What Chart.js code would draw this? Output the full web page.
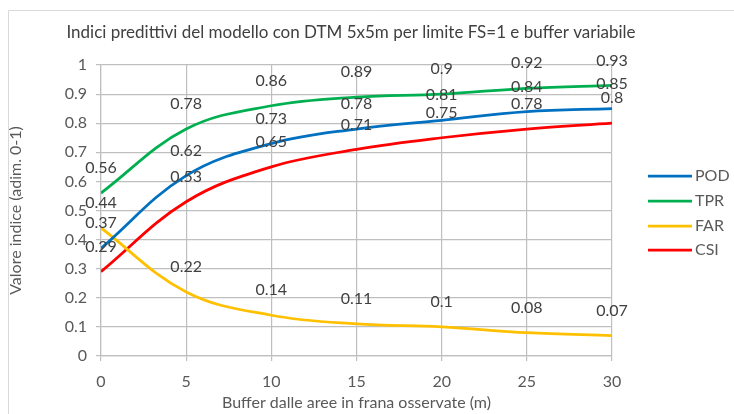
<!DOCTYPE html>
<html>
<head>
<meta charset="utf-8">
<script src="https://cdn.jsdelivr.net/npm/chart.js@4/dist/chart.umd.min.js"></script>
<style>
  html, body { margin: 0; padding: 0; background: #ffffff; }
  #wrap { position: relative; width: 734px; height: 414px; }
</style>
</head>
<body>
<div id="wrap"><canvas id="c" width="734" height="414"></canvas></div>
<script>
// Buffer distances (m) and predictive indices
const buffers = [0, 5, 10, 15, 20, 25, 30];
const seriesNames = ['POD', 'TPR', 'FAR', 'CSI'];
const pod = [0.37, 0.62, 0.73, 0.78, 0.81, 0.84, 0.85];
const tpr = [0.56, 0.78, 0.86, 0.89, 0.9, 0.92, 0.93];
const far = [0.44, 0.22, 0.14, 0.11, 0.1, 0.08, 0.07];
const csi = [0.29, 0.53, 0.65, 0.71, 0.75, 0.78, 0.8];
const xTicks = [0, 5, 10, 15, 20, 25, 30];
const yTicks = [0, 0.1, 0.2, 0.3, 0.4, 0.5, 0.6, 0.7, 0.8, 0.9, 1];

const titleText = 'Indici predittivi del modello con DTM 5x5m per limite FS=1 e buffer variabile';
const xTitle = 'Buffer dalle aree in frana osservate (m)';
const yTitle = 'Valore indice (adim. 0-1)';

const colors = ['#0070C0', '#00B050', '#FFC000', '#FF0000'];
const FONT = 'Lato, "Open Sans", sans-serif';
const TXT = 16;

const pts = arr => arr.map((v, i) => ({ x: buffers[i], y: v }));
const datasets = [pod, tpr, far, csi].map((arr, i) => ({
  label: seriesNames[i],
  data: pts(arr),
  borderColor: colors[i],
  backgroundColor: colors[i],
  borderWidth: 2.75,
  pointRadius: 0,
  tension: 0.38,
  fill: false
}));

// Frame, title, axis titles, value labels and legend
const decorations = {
  id: 'decorations',
  beforeDraw(chart) {
    const ctx = chart.ctx;
    ctx.save();
    ctx.strokeStyle = '#d9d9d9';
    ctx.lineWidth = 1;
    ctx.beginPath();
    ctx.moveTo(8.5, 414);
    ctx.lineTo(8.5, 10.5);
    ctx.lineTo(734, 10.5);
    ctx.stroke();
    ctx.restore();
  },
  afterDatasetsDraw(chart) {
    const ctx = chart.ctx;
    const xs = chart.scales.x, ys = chart.scales.y;
    const area = chart.chartArea;
    ctx.save();
    // title
    ctx.fillStyle = '#404040';
    ctx.font = '17px ' + FONT;
    ctx.textAlign = 'center';
    ctx.textBaseline = 'middle';
    ctx.fillText(titleText, 351, 33);
    // axis titles
    ctx.fillStyle = '#595959';
    ctx.font = TXT + 'px ' + FONT;
    ctx.fillText(xTitle, (area.left + area.right) / 2, 403);
    ctx.save();
    ctx.translate(16, (area.top + area.bottom) / 2);
    ctx.rotate(-Math.PI / 2);
    ctx.fillText(yTitle, 0, 0);
    ctx.restore();
    // value labels above each point
    ctx.fillStyle = '#404040';
    ctx.font = TXT + 'px ' + FONT;
    chart.data.datasets.forEach(ds => {
      ds.data.forEach(p => {
        const px = xs.getPixelForValue(p.x);
        const py = ys.getPixelForValue(p.y);
        ctx.fillText(String(p.y), px, py - 25);
      });
    });
    // legend
    ctx.textAlign = 'left';
    ctx.fillStyle = '#595959';
    ctx.font = TXT + 'px ' + FONT;
    const legendY = [176, 201, 226, 250];
    chart.data.datasets.forEach((ds, i) => {
      const y = legendY[i];
      ctx.strokeStyle = ds.borderColor;
      ctx.lineWidth = 2.75;
      ctx.beginPath();
      ctx.moveTo(648, y);
      ctx.lineTo(692, y);
      ctx.stroke();
      ctx.fillText(ds.label, 695, y);
    });
    ctx.restore();
  }
};

new Chart(document.getElementById('c'), {
  type: 'line',
  data: { datasets },
  options: {
    responsive: false,
    animation: false,
    layout: { padding: { top: 65, right: 122, left: 0, bottom: 0 } },
    plugins: { legend: { display: false }, title: { display: false }, tooltip: { enabled: false } },
    scales: {
      x: {
        type: 'linear',
        min: 0, max: 30,
        afterFit(s) { s.height = 58; },
        afterBuildTicks(s) { s.ticks = xTicks.map(v => ({ value: v })); },
        grid: { color: '#bfbfbf', lineWidth: 1.2, tickLength: 5, drawTicks: true },
        border: { color: '#bfbfbf', width: 1.2 },
        ticks: { color: '#595959', font: { family: FONT, size: TXT }, padding: 11 }
      },
      y: {
        min: 0, max: 1,
        afterFit(s) { s.width = 101; },
        afterBuildTicks(s) { s.ticks = yTicks.map(v => ({ value: v })); },
        grid: { color: '#bfbfbf', lineWidth: 1.2, tickLength: 5, drawTicks: true },
        border: { color: '#bfbfbf', width: 1.2 },
        ticks: {
          color: '#595959', font: { family: FONT, size: TXT }, padding: 9,
          callback: v => String(Math.round(v * 10) / 10)
        }
      }
    }
  },
  plugins: [decorations]
});
</script>
</body>
</html>
